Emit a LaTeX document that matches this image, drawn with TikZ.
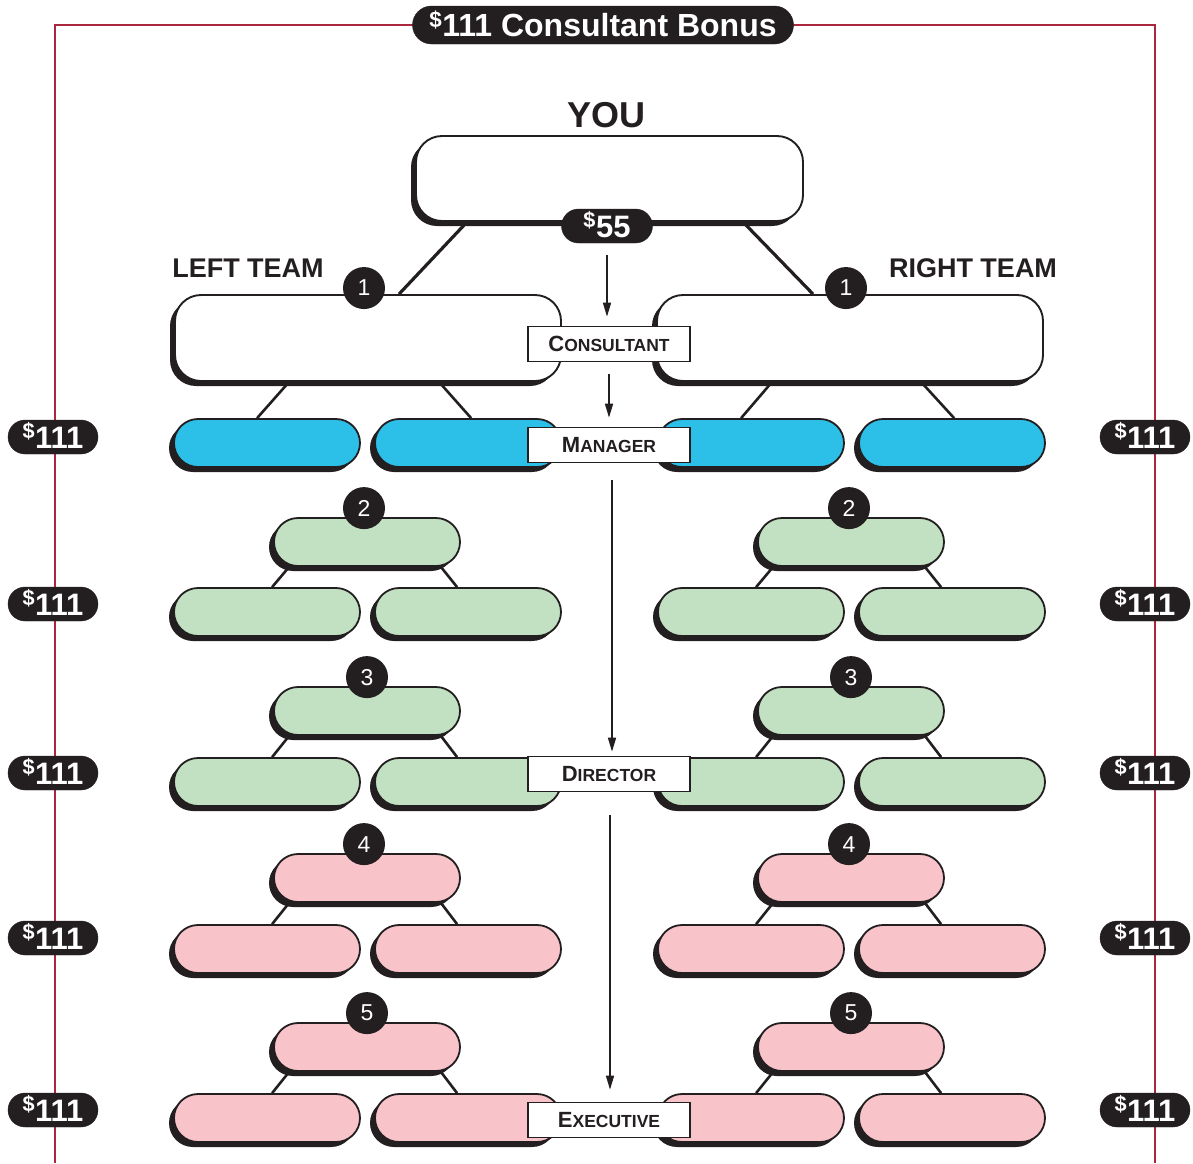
\documentclass[tikz,border=0pt]{standalone}
\usepackage{fontspec}
\setmainfont{Liberation Sans}
\usetikzlibrary{shadows,arrows.meta}

\definecolor{frameRed}{RGB}{170,40,62}
\definecolor{inkBlack}{RGB}{35,31,32}
\definecolor{mgrBlue}{RGB}{44,192,232}
\definecolor{dirGreen}{RGB}{194,225,194}
\definecolor{execPink}{RGB}{248,196,202}

\tikzset{
  shadowed/.style={drop shadow={shadow xshift=-5pt,shadow yshift=-5pt,opacity=1,fill=inkBlack}},
  bigbox/.style={shadowed,draw=inkBlack,line width=1.9pt,fill=white,rounded corners=26pt,minimum width=386pt,minimum height=86pt,inner sep=0pt},
  slot/.style={shadowed,draw=inkBlack,line width=1.8pt,rounded corners=24pt,minimum width=186pt,minimum height=48pt,inner sep=0pt},
  money/.style={fill=inkBlack,draw=inkBlack,text=white,rounded corners=17pt,minimum width=90pt,minimum height=34pt,inner sep=0pt,text height=22pt,text depth=0pt,font=\fontsize{31}{31}\selectfont\bfseries},
  level/.style={circle,fill=inkBlack,text=white,minimum size=42pt,inner sep=0pt,font=\fontsize{23}{23}\selectfont},
  rank/.style={draw=inkBlack,fill=white,line width=1.7pt,minimum width=162pt,minimum height=35pt,inner sep=0pt,text=inkBlack,font=\fontsize{17.5}{19}\selectfont\bfseries},
  team/.style={text=inkBlack,font=\fontsize{27}{27}\selectfont\bfseries},
  link/.style={draw=inkBlack,line width=3.2pt},
  twig/.style={draw=inkBlack,line width=2.6pt},
  flow/.style={draw=inkBlack,line width=1.6pt,-{Triangle[length=14pt,width=8pt]}},
}

\begin{document}
\begin{tikzpicture}[x=1pt,y=-1pt]
\useasboundingbox (0,0) rectangle (1193,1163);

%Frame
\draw[frameRed,line width=2.4pt] (55,1163) -- (55,25) -- (1155,25) -- (1155,1163);

%Title
\node[money,minimum width=381pt,minimum height=38pt,rounded corners=19pt,text height=23pt,font=\fontsize{32}{32}\selectfont\bfseries] (title) at (603,25) {\textsuperscript{\$}111 Consultant Bonus};

% Text Node
\node[team,font=\fontsize{36}{36}\selectfont\bfseries] (youlbl) at (606,115) {YOU};
\node[team] (leftlbl) at (248,268) {LEFT TEAM};
\node[team] (rightlbl) at (973,268) {RIGHT TEAM};

%Shape: you and teams
\node[bigbox,minimum width=387pt,minimum height=85pt] (you) at (609.5,178.5) {};
\node[bigbox] (lteam) at (368,338) {};
\node[bigbox] (rteam) at (850,338) {};
\node[money,minimum width=91pt] (b55) at (607,226) {\textsuperscript{\$}55};

%Shape: manager row
\node[slot,fill=mgrBlue] (lm1) at (267,443) {};
\node[slot,fill=mgrBlue] (lm2) at (468,443) {};
\node[slot,fill=mgrBlue] (rm1) at (751,443) {};
\node[slot,fill=mgrBlue] (rm2) at (952,443) {};

%Shape: level 2
\node[slot,fill=dirGreen] (l2t) at (367,542) {};
\node[slot,fill=dirGreen] (l2a) at (267,612) {};
\node[slot,fill=dirGreen] (l2b) at (468,612) {};
\node[slot,fill=dirGreen] (r2t) at (851,542) {};
\node[slot,fill=dirGreen] (r2a) at (751,612) {};
\node[slot,fill=dirGreen] (r2b) at (952,612) {};

%Shape: level 3
\node[slot,fill=dirGreen] (l3t) at (367,711) {};
\node[slot,fill=dirGreen] (l3a) at (267,782) {};
\node[slot,fill=dirGreen] (l3b) at (468,782) {};
\node[slot,fill=dirGreen] (r3t) at (851,711) {};
\node[slot,fill=dirGreen] (r3a) at (751,782) {};
\node[slot,fill=dirGreen] (r3b) at (952,782) {};

%Shape: level 4
\node[slot,fill=execPink] (l4t) at (367,878) {};
\node[slot,fill=execPink] (l4a) at (267,949) {};
\node[slot,fill=execPink] (l4b) at (468,949) {};
\node[slot,fill=execPink] (r4t) at (851,878) {};
\node[slot,fill=execPink] (r4a) at (751,949) {};
\node[slot,fill=execPink] (r4b) at (952,949) {};

%Shape: level 5
\node[slot,fill=execPink] (l5t) at (367,1047) {};
\node[slot,fill=execPink] (l5a) at (267,1118) {};
\node[slot,fill=execPink] (l5b) at (468,1118) {};
\node[slot,fill=execPink] (r5t) at (851,1047) {};
\node[slot,fill=execPink] (r5a) at (751,1118) {};
\node[slot,fill=execPink] (r5b) at (952,1118) {};

%Straight Lines
\draw[link] ([xshift=52pt]you.south west) -- ([xshift=225pt]lteam.north west);
\draw[link] ([xshift=-61pt]you.south east) -- ([xshift=-231pt]rteam.north east);
\draw[twig] ([xshift=115pt]lteam.south west) -- ([xshift=84pt]lm1.north west);
\draw[twig] ([xshift=265pt]lteam.south west) -- ([xshift=97pt]lm2.north west);
\draw[twig] ([xshift=116pt]rteam.south west) -- ([xshift=84pt]rm1.north west);
\draw[twig] ([xshift=265pt]rteam.south west) -- ([xshift=96pt]rm2.north west);
%Straight Lines: left groups
\draw[twig] ([xshift=16pt]l2t.south west) -- ([xshift=99pt]l2a.north west);
\draw[twig] ([xshift=-20pt]l2t.south east) -- ([xshift=83pt]l2b.north west);
\draw[twig] ([xshift=16pt]l3t.south west) -- ([xshift=99pt]l3a.north west);
\draw[twig] ([xshift=-20pt]l3t.south east) -- ([xshift=83pt]l3b.north west);
\draw[twig] ([xshift=16pt]l4t.south west) -- ([xshift=99pt]l4a.north west);
\draw[twig] ([xshift=-20pt]l4t.south east) -- ([xshift=83pt]l4b.north west);
\draw[twig] ([xshift=16pt]l5t.south west) -- ([xshift=99pt]l5a.north west);
\draw[twig] ([xshift=-20pt]l5t.south east) -- ([xshift=83pt]l5b.north west);
%Straight Lines: right groups
\draw[twig] ([xshift=16pt]r2t.south west) -- ([xshift=99pt]r2a.north west);
\draw[twig] ([xshift=-20pt]r2t.south east) -- ([xshift=83pt]r2b.north west);
\draw[twig] ([xshift=16pt]r3t.south west) -- ([xshift=99pt]r3a.north west);
\draw[twig] ([xshift=-20pt]r3t.south east) -- ([xshift=83pt]r3b.north west);
\draw[twig] ([xshift=16pt]r4t.south west) -- ([xshift=99pt]r4a.north west);
\draw[twig] ([xshift=-20pt]r4t.south east) -- ([xshift=83pt]r4b.north west);
\draw[twig] ([xshift=16pt]r5t.south west) -- ([xshift=99pt]r5a.north west);
\draw[twig] ([xshift=-20pt]r5t.south east) -- ([xshift=83pt]r5b.north west);

%Level badges
\node[level] (n1l) at ([xshift=-4pt,yshift=6pt]lteam.north) {1};
\node[level] (n1r) at ([xshift=-4pt,yshift=6pt]rteam.north) {1};
\node[level] (n2l) at ([xshift=-3pt,yshift=9pt]l2t.north) {2};
\node[level] (n2r) at ([xshift=-2pt,yshift=9pt]r2t.north) {2};
\node[level] (n3l) at ([yshift=9pt]l3t.north) {3};
\node[level] (n3r) at ([yshift=9pt]r3t.north) {3};
\node[level] (n4l) at ([xshift=-3pt,yshift=9pt]l4t.north) {4};
\node[level] (n4r) at ([xshift=-2pt,yshift=9pt]r4t.north) {4};
\node[level] (n5l) at ([yshift=9pt]l5t.north) {5};
\node[level] (n5r) at ([yshift=9pt]r5t.north) {5};

%Bonus badges
\node[money] (bl1) at (53,437) {\textsuperscript{\$}111};
\node[money] (bl2) at (53,604) {\textsuperscript{\$}111};
\node[money] (bl3) at (53,773) {\textsuperscript{\$}111};
\node[money] (bl4) at (53,938) {\textsuperscript{\$}111};
\node[money] (bl5) at (53,1110) {\textsuperscript{\$}111};
\node[money] (br1) at (1145,437) {\textsuperscript{\$}111};
\node[money] (br2) at (1145,604) {\textsuperscript{\$}111};
\node[money] (br3) at (1145,773) {\textsuperscript{\$}111};
\node[money] (br4) at (1145,938) {\textsuperscript{\$}111};
\node[money] (br5) at (1145,1110) {\textsuperscript{\$}111};

%Rank labels
\node[rank] (cons) at (609,344) {{\fontsize{22}{22}\selectfont C}ONSULTANT};
\node[rank] (mgr) at (609,445) {{\fontsize{22}{22}\selectfont M}ANAGER};
\node[rank] (dir) at (609,774) {{\fontsize{22}{22}\selectfont D}IRECTOR};
\node[rank] (exec) at (609,1120) {{\fontsize{22}{22}\selectfont E}XECUTIVE};

%Arrows
\draw[flow,shorten <=12pt,shorten >=9pt] (b55) -- (b55 |- cons.north);
\draw[flow,shorten <=12pt,shorten >=9pt] (cons) -- (mgr);
\draw[flow,shorten <=17pt,shorten >=4pt] ([xshift=3pt]mgr.south) -- ([xshift=3pt]dir.north);
\draw[flow,shorten <=23pt,shorten >=12pt] ([xshift=1pt]dir.south) -- ([xshift=1pt]exec.north);

\end{tikzpicture}
\end{document}
